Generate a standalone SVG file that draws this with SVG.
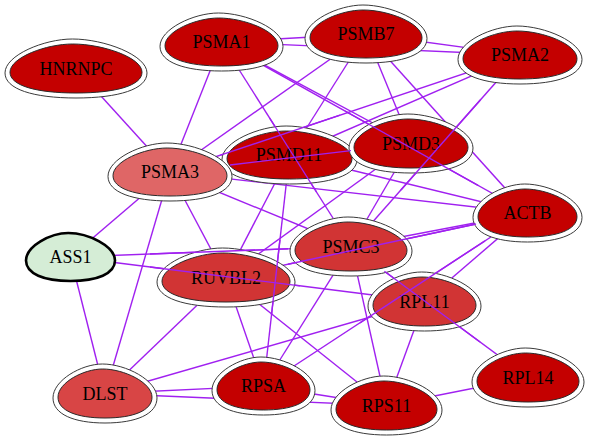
<svg xmlns="http://www.w3.org/2000/svg" xmlns:xlink="http://www.w3.org/1999/xlink" width="589" height="441" viewBox="0 0 589 441">
<style>
.ring{fill:#ffffff;stroke:#3a3a3a;stroke-width:1}
.core{stroke:#2a2a2a;stroke-width:1}
.dark{fill:#c40000}
.mid{fill:#d13434}
.light{fill:#df6666}
.dlst{fill:#d84545}
.seed{fill:#d5edd6;stroke:#000;stroke-width:2.6}
.lbl{font-family:"Liberation Serif","Times New Roman",serif;font-size:18px;text-anchor:middle;fill:#000}
.e line{stroke:#a020f0;stroke-width:1.4;fill:none}
</style>
<defs>
<path id="egg" vector-effect="non-scaling-stroke" d="M -1 0.15 C -1 -0.45 -0.45 -1 -0.05 -1 C 0.4 -1 1 -0.45 1 0.15 C 1 0.7 0.6 1 0 1 C -0.6 1 -1 0.7 -1 0.15 Z"/>
</defs>
<rect width="589" height="441" fill="#ffffff"/>
<g id="connectors" class="e">
<line x1="76" y1="68.5" x2="170" y2="172"/>
<line x1="221.5" y1="42" x2="170" y2="172"/>
<line x1="221.5" y1="42" x2="366" y2="34"/>
<line x1="221.5" y1="42" x2="520" y2="55"/>
<line x1="366" y1="34" x2="520" y2="55"/>
<line x1="221.5" y1="42" x2="351" y2="246.5"/>
<line x1="221.5" y1="42" x2="411" y2="143.5"/>
<line x1="221.5" y1="42" x2="527.5" y2="213"/>
<line x1="366" y1="34" x2="527.5" y2="213"/>
<line x1="366" y1="34" x2="411" y2="143.5"/>
<line x1="366" y1="34" x2="289.5" y2="155"/>
<line x1="366" y1="34" x2="170" y2="172"/>
<line x1="520" y1="55" x2="289.5" y2="155"/>
<line x1="520" y1="55" x2="170" y2="172"/>
<line x1="520" y1="55" x2="351" y2="246.5"/>
<line x1="170" y1="172" x2="411" y2="143.5"/>
<line x1="170" y1="172" x2="527.5" y2="213"/>
<line x1="170" y1="172" x2="351" y2="246.5"/>
<line x1="170" y1="172" x2="70.5" y2="257"/>
<line x1="170" y1="172" x2="105" y2="393.5"/>
<line x1="170" y1="172" x2="226" y2="277.5"/>
<line x1="289.5" y1="155" x2="527.5" y2="213"/>
<line x1="289.5" y1="155" x2="226" y2="277.5"/>
<line x1="289.5" y1="155" x2="263.5" y2="386"/>
<line x1="411" y1="143.5" x2="351" y2="246.5"/>
<line x1="411" y1="143.5" x2="226" y2="277.5"/>
<line x1="70.5" y1="257" x2="351" y2="246.5"/>
<line x1="70.5" y1="257" x2="424.5" y2="301.5"/>
<line x1="70.5" y1="257" x2="105" y2="393.5"/>
<line x1="226" y1="277.5" x2="527.5" y2="213"/>
<line x1="226" y1="277.5" x2="105" y2="393.5"/>
<line x1="226" y1="277.5" x2="263.5" y2="386"/>
<line x1="226" y1="277.5" x2="386.5" y2="405.5"/>
<line x1="351" y1="246.5" x2="527.5" y2="213"/>
<line x1="351" y1="246.5" x2="263.5" y2="386"/>
<line x1="351" y1="246.5" x2="386.5" y2="405.5"/>
<line x1="351" y1="246.5" x2="528" y2="377.5"/>
<line x1="424.5" y1="301.5" x2="527.5" y2="213"/>
<line x1="424.5" y1="301.5" x2="386.5" y2="405.5"/>
<line x1="424.5" y1="301.5" x2="105" y2="393.5"/>
<line x1="263.5" y1="386" x2="527.5" y2="213"/>
<line x1="263.5" y1="386" x2="386.5" y2="405.5"/>
<line x1="263.5" y1="386" x2="105" y2="393.5"/>
<line x1="105" y1="393.5" x2="386.5" y2="405.5"/>
<line x1="386.5" y1="405.5" x2="528" y2="377.5"/>
</g>
<g id="node-HNRNPC">
<use xlink:href="#egg" class="ring" transform="translate(76 68.5) scale(71 29.5)"/>
<use xlink:href="#egg" class="core dark" transform="translate(76 68.5) scale(66 24.5)"/>
<text class="lbl" x="76" y="74.5">HNRNPC</text>
</g>
<g id="node-PSMA1">
<use xlink:href="#egg" class="ring" transform="translate(221.5 42) scale(61.5 29)"/>
<use xlink:href="#egg" class="core dark" transform="translate(221.5 42) scale(56.5 24)"/>
<text class="lbl" x="221.5" y="48">PSMA1</text>
</g>
<g id="node-PSMB7">
<use xlink:href="#egg" class="ring" transform="translate(366 34) scale(61 29)"/>
<use xlink:href="#egg" class="core dark" transform="translate(366 34) scale(56 24)"/>
<text class="lbl" x="366" y="40">PSMB7</text>
</g>
<g id="node-PSMA2">
<use xlink:href="#egg" class="ring" transform="translate(520 55) scale(62 29)"/>
<use xlink:href="#egg" class="core dark" transform="translate(520 55) scale(57 24)"/>
<text class="lbl" x="520" y="61">PSMA2</text>
</g>
<g id="node-PSMD11">
<use xlink:href="#egg" class="ring" transform="translate(289.5 155) scale(67.5 29)"/>
<use xlink:href="#egg" class="core dark" transform="translate(289.5 155) scale(62.5 24)"/>
<text class="lbl" x="289" y="161">PSMD11</text>
</g>
<g id="node-PSMA3">
<use xlink:href="#egg" class="ring" transform="translate(170 172) scale(62 29)"/>
<use xlink:href="#egg" class="core light" transform="translate(170 172) scale(57 24)"/>
<text class="lbl" x="170" y="178">PSMA3</text>
</g>
<g id="node-PSMD3">
<use xlink:href="#egg" class="ring" transform="translate(411 143.5) scale(62 29.5)"/>
<use xlink:href="#egg" class="core dark" transform="translate(411 143.5) scale(57 24.5)"/>
<text class="lbl" x="411" y="149.5">PSMD3</text>
</g>
<g id="node-ACTB">
<use xlink:href="#egg" class="ring" transform="translate(527.5 213) scale(54.5 29)"/>
<use xlink:href="#egg" class="core dark" transform="translate(527.5 213) scale(49.5 24)"/>
<text class="lbl" x="527.5" y="219">ACTB</text>
</g>
<g id="node-ASS1">
<use xlink:href="#egg" class="seed" transform="translate(70.5 257) scale(44.5 24)"/>
<text class="lbl" x="70.5" y="263">ASS1</text>
</g>
<g id="node-RUVBL2">
<use xlink:href="#egg" class="ring" transform="translate(226 277.5) scale(69 29.5)"/>
<use xlink:href="#egg" class="core mid" transform="translate(226 277.5) scale(64 24.5)"/>
<text class="lbl" x="226" y="283.5">RUVBL2</text>
</g>
<g id="node-PSMC3">
<use xlink:href="#egg" class="ring" transform="translate(351 246.5) scale(61 29.5)"/>
<use xlink:href="#egg" class="core mid" transform="translate(351 246.5) scale(56 24.5)"/>
<text class="lbl" x="351" y="252.5">PSMC3</text>
</g>
<g id="node-RPL11">
<use xlink:href="#egg" class="ring" transform="translate(424.5 301.5) scale(56.5 29.5)"/>
<use xlink:href="#egg" class="core mid" transform="translate(424.5 301.5) scale(51.5 24.5)"/>
<text class="lbl" x="424.5" y="307.5">RPL11</text>
</g>
<g id="node-RPL14">
<use xlink:href="#egg" class="ring" transform="translate(528 377.5) scale(56 29.5)"/>
<use xlink:href="#egg" class="core dark" transform="translate(528 377.5) scale(51 24.5)"/>
<text class="lbl" x="528" y="383.5">RPL14</text>
</g>
<g id="node-RPS11">
<use xlink:href="#egg" class="ring" transform="translate(386.5 405.5) scale(55.5 29.5)"/>
<use xlink:href="#egg" class="core dark" transform="translate(386.5 405.5) scale(50.5 24.5)"/>
<text class="lbl" x="386.5" y="411.5">RPS11</text>
</g>
<g id="node-RPSA">
<use xlink:href="#egg" class="ring" transform="translate(263.5 386) scale(51.5 29)"/>
<use xlink:href="#egg" class="core dark" transform="translate(263.5 386) scale(46.5 24)"/>
<text class="lbl" x="263.5" y="392">RPSA</text>
</g>
<g id="node-DLST">
<use xlink:href="#egg" class="ring" transform="translate(105 393.5) scale(52 29.5)"/>
<use xlink:href="#egg" class="core dlst" transform="translate(105 393.5) scale(47 24.5)"/>
<text class="lbl" x="105" y="399.5">DLST</text>
</g>
<g id="connectors-over" class="e">
<line x1="220.5" y1="155.1" x2="340" y2="115.2"/>
<line x1="230" y1="165" x2="351" y2="150.6"/>
<line x1="269.6" y1="118" x2="316.5" y2="192"/>
<line x1="345" y1="111" x2="478" y2="185.3"/>
<line x1="480.3" y1="100" x2="400.9" y2="190"/>
<line x1="150" y1="267" x2="300" y2="285.9"/>
<line x1="150" y1="254" x2="288" y2="248.8"/>
<line x1="279.9" y1="240" x2="271.5" y2="315"/>
<line x1="288" y1="264.2" x2="476" y2="224"/>
<line x1="384.4" y1="271.2" x2="480" y2="342"/>
<line x1="360" y1="322.8" x2="485" y2="240.8"/>
</g>
</svg>
